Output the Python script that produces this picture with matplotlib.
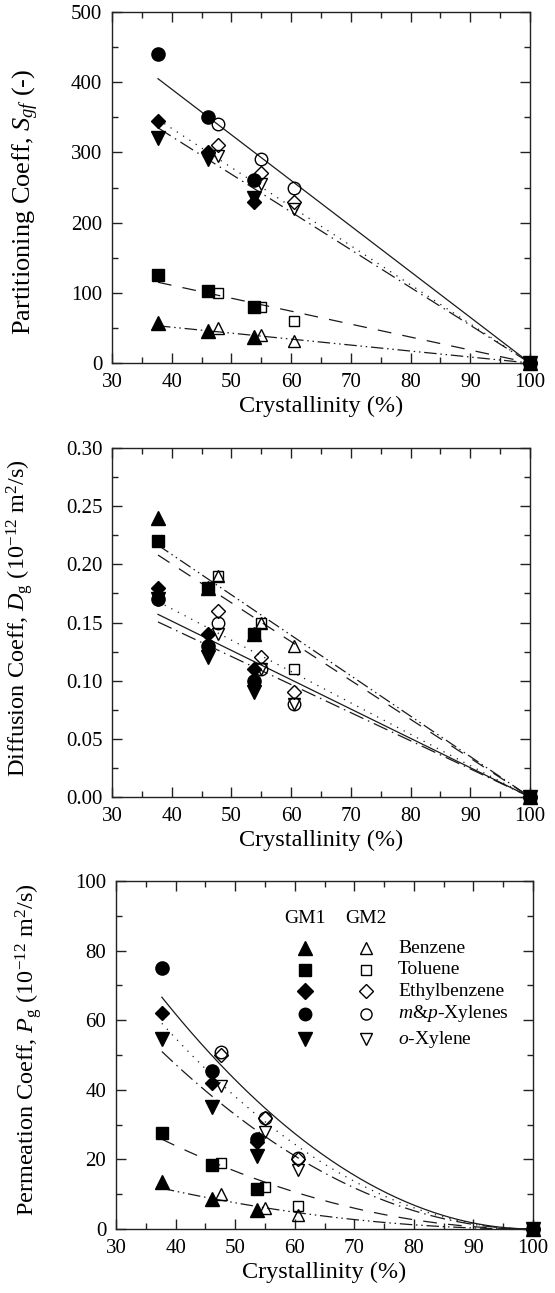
import numpy as np
import matplotlib
matplotlib.use("Agg")
import matplotlib.pyplot as plt
from matplotlib.ticker import MultipleLocator

plt.rcParams['font.family'] = ['Liberation Serif', 'DejaVu Serif']
plt.rcParams['mathtext.fontset'] = 'custom'
plt.rcParams['mathtext.rm'] = 'Liberation Serif'
plt.rcParams['mathtext.it'] = 'Liberation Serif:italic'
plt.rcParams['mathtext.bf'] = 'Liberation Serif:bold'

# ---------------- data ----------------
solutes = ['Benzene', 'Toluene', 'Ethylbenzene', '$m$&$p$-Xylenes', '$o$-Xylene']
x_gm1 = [37.7, 46.1, 53.7, 100]
x_gm2 = [47.7, 55.0, 60.5, 100]

# Partitioning coefficient S_gf (order: Benzene, Toluene, EB, m&p-X, o-X)
S_gm1 = [[57, 45, 37, 0], [125, 102, 80, 0], [345, 300, 230, 0],
         [440, 350, 260, 0], [320, 290, 235, 0]]
S_gm2 = [[50, 40, 32, 0], [100, 80, 60, 0], [310, 270, 230, 0],
         [340, 290, 250, 0], [295, 255, 220, 0]]

# Diffusion coefficient D_g
D_gm1 = [[0.24, 0.18, 0.14, 0], [0.22, 0.18, 0.14, 0], [0.18, 0.14, 0.11, 0],
         [0.17, 0.13, 0.10, 0], [0.17, 0.12, 0.09, 0]]
D_gm2 = [[0.19, 0.15, 0.13, 0], [0.19, 0.15, 0.11, 0], [0.16, 0.12, 0.09, 0],
         [0.15, 0.11, 0.08, 0], [0.14, 0.11, 0.08, 0]]

# Permeation coefficient P_g
P_gm1 = [[13.5, 8.5, 5.5, 0], [27.5, 18.5, 11.5, 0], [62, 42, 25, 0],
         [75, 45.5, 26, 0], [54.5, 35, 21, 0]]
P_gm2 = [[10, 6, 4, 0], [19, 12, 6.5, 0], [50, 32, 20, 0],
         [51, 32, 20.5, 0], [41, 28, 17, 0]]

# model fit lines: value at fit start crystallinity, all go to 0 at 100 %
fit_x0 = 37.7
S_fit0 = [53, 115, 347, 405, 335]               # linear in (100 - X)
D_fit0 = [0.2165, 0.208, 0.168, 0.157, 0.1505]  # linear in (100 - X)
P_fit0 = [11.7, 25.8, 59.1, 66.6, 51.0]         # quadratic in (100 - X)

# ---------------- styles ----------------
markers_f = ['^', 's', 'D', 'o', 'v']
msizes = [9.5, 8, 7.5, 9.5, 9.5]
leg_msizes = [9.5, 8, 8.5, 9.0, 9.5]
lstyles = [(0, (10, 3, 1.2, 3, 1.2, 3)), (0, (11, 9)), (0, (1, 5)), '-',
           (0, (12, 4, 1.2, 4))]

W, H = 555, 1293
fig = plt.figure(figsize=(W / 100, H / 100), dpi=100)

def frac(l, r, t, b):
    return [l / W, 1 - b / H, (r - l) / W, (b - t) / H]

ax1 = fig.add_axes(frac(112, 530, 12, 363))
ax2 = fig.add_axes(frac(112, 530, 448, 797))
ax3 = fig.add_axes(frac(116, 533, 881, 1229))

def style_axis(ax, ymax, ymaj, ymin, fmt=None):
    ax.set_xlim(30, 100)
    ax.set_ylim(0, ymax)
    ax.xaxis.set_major_locator(MultipleLocator(10))
    ax.xaxis.set_minor_locator(MultipleLocator(5))
    ax.yaxis.set_major_locator(MultipleLocator(ymaj))
    ax.yaxis.set_minor_locator(MultipleLocator(ymin))
    ax.tick_params(which='both', direction='in', top=True, right=True,
                   labelsize=15, width=1.0, color='#222222')
    ax.tick_params(which='major', length=7, pad=7)
    ax.tick_params(which='minor', length=4)
    for s in ax.spines.values():
        s.set_linewidth(1.0)
        s.set_color('#222222')
    if fmt:
        ax.yaxis.set_major_formatter(plt.FormatStrFormatter(fmt))
    ax.set_xlabel('Crystallinity (%)', fontsize=17.5, labelpad=3)

def plot_panel(ax, gm1, gm2, fit0, power):
    xs = np.linspace(fit_x0, 100, 200)
    for i in range(5):
        y = fit0[i] * ((100 - xs) / (100 - fit_x0)) ** power
        ax.plot(xs, y, color='#1a1a1a', lw=0.9, ls=lstyles[i], zorder=2)
    for i in range(5):
        ax.plot(x_gm1, gm1[i], ls='none', marker=markers_f[i], ms=msizes[i],
                color='black', zorder=4, clip_on=False)
        ax.plot(x_gm2, gm2[i], ls='none', marker=markers_f[i], ms=msizes[i] - 0.5,
                mfc='none', mec='black', mew=1.0, zorder=3, clip_on=False)

plot_panel(ax1, S_gm1, S_gm2, S_fit0, 1)
plot_panel(ax2, D_gm1, D_gm2, D_fit0, 1)
plot_panel(ax3, P_gm1, P_gm2, P_fit0, 2)

style_axis(ax1, 500, 100, 50)
style_axis(ax2, 0.30, 0.05, 0.025, '%.2f')
style_axis(ax3, 100, 20, 10)

ax1.set_ylabel('Partitioning Coeff, $S_{gf}$ (-)', fontsize=19)
ax2.set_ylabel('Diffusion Coeff, $D_{\\mathrm{g}}$ (10$^{-12}$ m$^2$/s)', fontsize=17.5)
ax3.set_ylabel('Permeation Coeff, $P_{\\mathrm{g}}$ (10$^{-12}$ m$^2$/s)', fontsize=17.5)
ax1.yaxis.set_label_coords(-0.170, 0.46)
ax2.yaxis.set_label_coords(-0.185, 0.513)
ax3.yaxis.set_label_coords(-0.173, 0.514)

# legend (manual, in axes fraction)
col1, col2, colt = 0.453, 0.600, 0.676
rows = [0.807, 0.745, 0.683, 0.618, 0.545]
ax3.text(col1, 0.891, 'GM1', transform=ax3.transAxes, ha='center', va='center', fontsize=14)
ax3.text(col2, 0.891, 'GM2', transform=ax3.transAxes, ha='center', va='center', fontsize=14)
for i in range(5):
    ax3.plot([col1], [rows[i]], transform=ax3.transAxes, marker=markers_f[i],
             ms=leg_msizes[i], color='black', ls='none')
    ax3.plot([col2], [rows[i]], transform=ax3.transAxes, marker=markers_f[i],
             ms=leg_msizes[i] - 1, mfc='none', mec='black', mew=1.0, ls='none')
    ax3.text(colt, rows[i], solutes[i], transform=ax3.transAxes, ha='left',
             va='center', fontsize=14)

fig.savefig('out.png', dpi=100)
